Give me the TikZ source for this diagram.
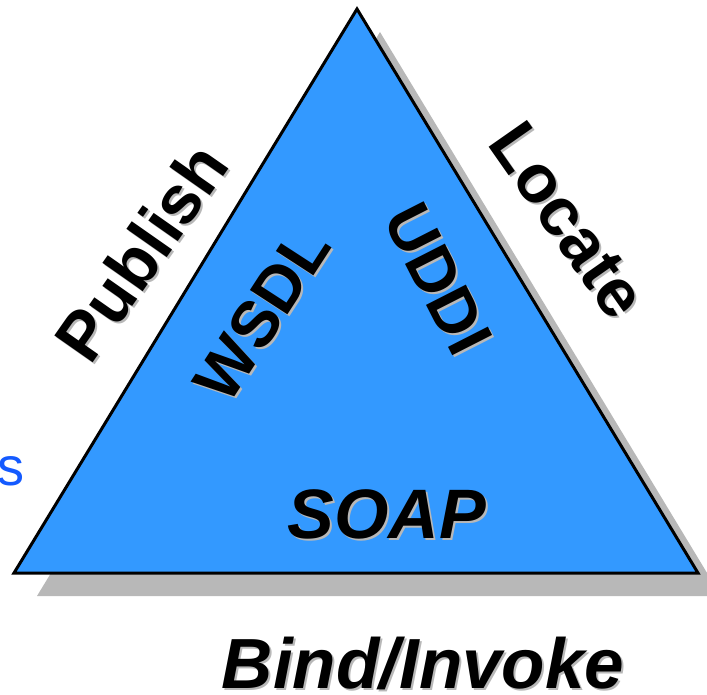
\documentclass[tikz,border=0pt]{standalone}
\usepackage{fontspec}
\setmainfont{Liberation Sans}
\definecolor{triblue}{RGB}{51,153,255}
\definecolor{shadowgray}{RGB}{184,184,184}
\definecolor{sblue}{RGB}{20,90,255}
\tikzset{
  lbl/.style={inner sep=0pt, font=\bfseries\fontsize{68}{68}\selectfont},
  lblin/.style={inner sep=0pt, font=\bfseries\fontsize{65}{65}\selectfont},
  lblit/.style={inner sep=0pt, font=\bfseries\itshape\fontsize{70}{70}\selectfont},
  shd/.style={text=shadowgray},
}
\begin{document}
\begin{tikzpicture}[x=1pt,y=1pt]
\useasboundingbox (0,0) rectangle (707,-695);
\coordinate (A) at (357,-9);
\coordinate (B) at (14,-573);
\coordinate (C) at (698,-573);
% shadow triangle
\fill[shadowgray] ([shift={(23,-23)}]A) -- ([shift={(23,-23)}]B) -- ([shift={(23,-23)}]C) -- cycle;
% triangle
\filldraw[fill=triblue, draw=black, line width=3pt] (A) -- (B) -- (C) -- cycle;
% cut off blue text
\node[inner sep=0pt, anchor=base west, text=sblue, font=\fontsize{54}{54}\selectfont] (s) at (-3,-485) {s};
% labels with shadows
\node[lbl, shd, rotate=55] (publishS) at (143,-254) {Publish};
\node[lbl, rotate=55] (publish) at (141,-252) {Publish};
\node[lbl, shd, rotate=-55] (locateS) at (570,-222) {Locate};
\node[lbl, rotate=-55] (locate) at (568,-220) {Locate};
\node[lblin, shd, rotate=57] (wsdlS) at (264,-316) {WSDL};
\node[lblin, rotate=57] (wsdl) at (262,-314) {WSDL};
\node[lblin, shd, rotate=-63] (uddiS) at (440,-281) {UDDI};
\node[lblin, rotate=-63] (uddi) at (438,-279) {UDDI};
\node[lblit, shd] (soapS) at (389,-516) {SOAP};
\node[lblit] (soap) at (387,-514) {SOAP};
\node[lblit, shd, font=\bfseries\itshape\fontsize{71}{71}\selectfont] (bindS) at (425,-665) {Bind/Invoke};
\node[lblit, font=\bfseries\itshape\fontsize{71}{71}\selectfont] (bind) at (423,-663) {Bind/Invoke};
\end{tikzpicture}
\end{document}
